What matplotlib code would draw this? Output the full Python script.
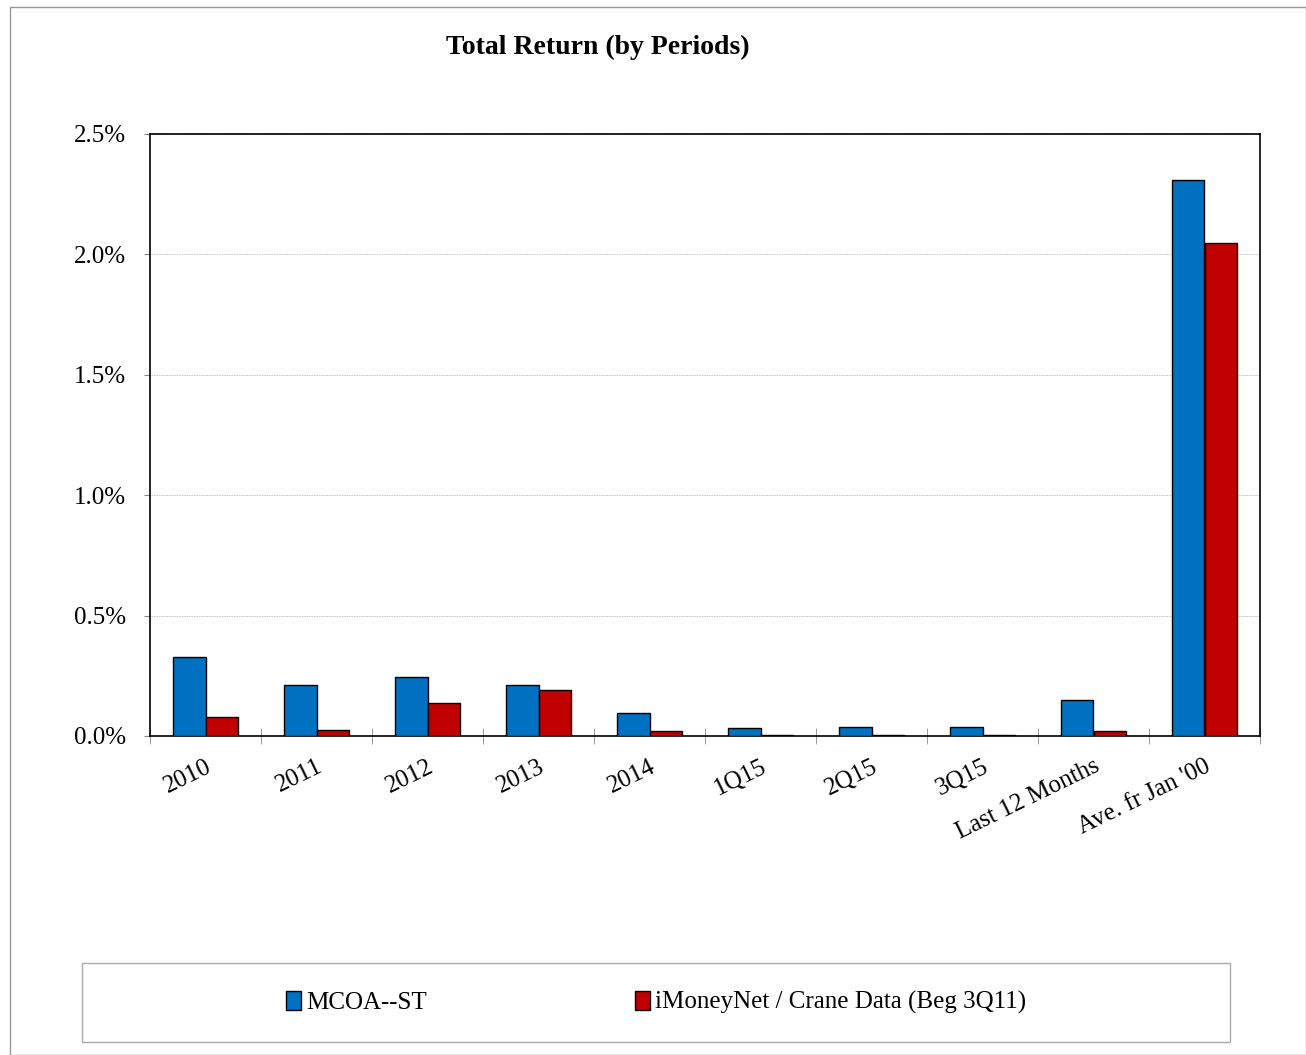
import matplotlib.pyplot as plt
import numpy as np
from matplotlib.patches import Rectangle

plt.rcParams['font.family'] = ['Liberation Serif', 'DejaVu Serif']

periods = ['2010', '2011', '2012', '2013', '2014', '1Q15', '2Q15', '3Q15',
           'Last 12 Months', "Ave. fr Jan '00"]
mcoa = [0.328, 0.212, 0.245, 0.212, 0.096, 0.033, 0.037, 0.037, 0.150, 2.309]
imoney = [0.079, 0.025, 0.137, 0.191, 0.021, 0.006, 0.004, 0.004, 0.021, 2.047]
yticks = [0.0, 0.5, 1.0, 1.5, 2.0, 2.5]

W, H = 1306, 1055
fig = plt.figure(figsize=(W / 100, H / 100), dpi=100)

# outer frame like the source chart
fig.patches.append(Rectangle((10 / W, 0), 1 - 10 / W, 1 - 7 / H, transform=fig.transFigure,
                             fill=False, edgecolor='#999999', linewidth=1))

ax = fig.add_axes([150 / W, 1 - 736 / H, (1260 - 150) / W, (736 - 134) / H])

x = np.arange(len(periods))
bw = 0.29
ax.bar(x - bw / 2, mcoa, bw, color='#0070C0', edgecolor='black', linewidth=1,
       label='MCOA--ST', zorder=3)
ax.bar(x + bw / 2, imoney, bw, color='#C00000', edgecolor='black', linewidth=1,
       label='iMoneyNet / Crane Data (Beg 3Q11)', zorder=3)

ax.set_xlim(-0.5, len(periods) - 0.5)
ax.set_ylim(0, 2.5)
ax.set_yticks(yticks)
ax.set_yticklabels([f'{v:.1f}%' for v in yticks], fontsize=18)
ax.yaxis.grid(True, color='#aaaaaa', linewidth=0.6, linestyle=(0, (1, 1)), zorder=0)
ax.tick_params(axis='y', direction='out', length=4, color='#888888', pad=13)

ax.set_xticks(x)
ax.set_xticklabels(periods, rotation=26, ha='right', rotation_mode='anchor', fontsize=18)
ax.tick_params(axis='x', length=0, pad=14)
ax.set_xticks(np.arange(-0.5, len(periods), 1), minor=True)
ax.tick_params(axis='x', which='minor', direction='inout', length=12, color='#888888')

for s in ax.spines.values():
    s.set_linewidth(1.2)

fig.text(598 / W, 1 - 47 / H, 'Total Return (by Periods)', ha='center', va='center',
         fontsize=20, fontweight='bold')

leg = fig.legend(loc='center', bbox_to_anchor=(82 / W, 1 - 1042 / H, (1230 - 82) / W, 79 / H),
                 ncol=2, frameon=False, fontsize=18, handlelength=0.6, handleheight=0.8,
                 handletextpad=0.2, columnspacing=8.3)
fig.patches.append(Rectangle((82 / W, 1 - 1042 / H), (1230 - 82) / W, 79 / H,
                             transform=fig.transFigure, fill=False,
                             edgecolor='#AAAAAA', linewidth=1))

fig.savefig('out.png', dpi=100)
